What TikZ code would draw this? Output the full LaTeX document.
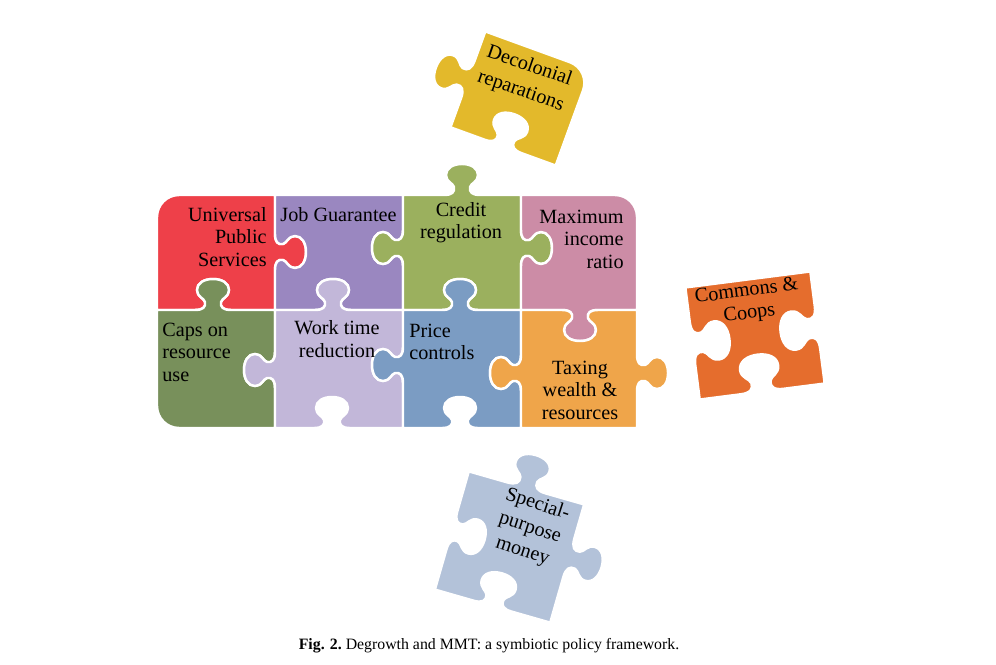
\documentclass[tikz,border=0pt]{standalone}
\usepackage{fontspec}
\setmainfont{Liberation Serif}
\usepackage{tikz}
\usetikzlibrary{calc,positioning}

\definecolor{upsred}{HTML}{EE4049}
\definecolor{jobpurple}{HTML}{9A87C0}
\definecolor{creditgreen}{HTML}{9BB05E}
\definecolor{maxpink}{HTML}{CC8CA6}
\definecolor{capsolive}{HTML}{78905B}
\definecolor{worklav}{HTML}{C2B7D9}
\definecolor{priceblue}{HTML}{7B9CC3}
\definecolor{taxorange}{HTML}{EFA54A}
\definecolor{decoyellow}{HTML}{E3B92B}
\definecolor{coopsorange}{HTML}{E56D2D}
\definecolor{spmblue}{HTML}{B3C2D9}

% one tab of a piece, in the edge's own frame
\newcommand{\knobpath}{-- (-18,0) .. controls (-10,0) and (-7,3) .. (-8,8)
  .. controls (-9,12) and (-16,13) .. (-16,20) .. controls (-16,27) and (-9,31) .. (0,31)
  .. controls (9,31) and (16,27) .. (16,20) .. controls (16,13) and (9,12) .. (8,8)
  .. controls (7,3) and (10,0) .. (18,0)}
\newcommand{\hknob}[4]{{[cm={#3,0,0,#4,(#1,#2)}] \knobpath}}
\newcommand{\vknob}[4]{{[cm={0,#3,#4,0,(#1,#2)}] \knobpath}}

\begin{document}
\begin{tikzpicture}[x=0.02cm, y=0.02cm,
  piece/.style={draw=white, line width=1.4pt, line join=round},
  lbl/.style={font=\fontsize{11.5}{12.8}\selectfont, inner sep=0pt}]
\useasboundingbox (0,0) rectangle (996,664);

% top row
\path[piece, fill=upsred] (157,447) arc[start angle=180, end angle=90, radius=22] -- (275,469)
  \vknob{275}{412}{-1}{1} -- (275,354) \hknob{213}{354}{-1}{1} -- (157,354) -- cycle;
\path[piece, fill=jobpurple] (275,469) -- (403,469) \vknob{403}{416}{-1}{-1} -- (403,354)
  \hknob{333}{354}{-1}{1} -- (275,354) \vknob{275}{412}{1}{1} -- cycle;
\path[piece, fill=creditgreen] (403,469) \hknob{462}{469}{1}{1} -- (521,469) \vknob{521}{416}{-1}{1}
  -- (521,354) \hknob{460}{354}{-1}{1} -- (403,354) \vknob{403}{416}{1}{-1} -- cycle;
\path[piece, fill=maxpink] (521,469) -- (615,469) arc[start angle=90, end angle=0, radius=22]
  -- (637,354) \hknob{580}{354}{-1}{-1} -- (521,354) \vknob{521}{416}{1}{1} -- cycle;

% bottom row
\path[piece, fill=capsolive] (157,354) \hknob{213}{354}{1}{1} -- (275,354) \vknob{275}{294}{-1}{-1}
  -- (275,236) -- (179,236) arc[start angle=270, end angle=180, radius=22] -- cycle;
\path[piece, fill=worklav] (275,354) \hknob{333}{354}{1}{1} -- (403,354) \vknob{403}{299}{-1}{-1}
  -- (403,236) \hknob{332}{236}{-1}{1} -- (275,236) \vknob{275}{294}{1}{-1} -- cycle;
\path[piece, fill=priceblue] (403,354) \hknob{460}{354}{1}{1} -- (521,354) \vknob{521}{291}{-1}{-1}
  -- (521,236) \hknob{460}{236}{-1}{1} -- (403,236) \vknob{403}{299}{1}{-1} -- cycle;
\path[piece, fill=taxorange] (521,354) \hknob{580}{354}{1}{-1} -- (637,354) \vknob{637}{291}{-1}{1}
  -- (637,236) -- (521,236) \vknob{521}{291}{1}{-1} -- cycle;

% loose pieces
\begin{scope}[shift={(520.5,565.5)}, rotate=-20]
\path[piece, fill=decoyellow] (-56,51) -- (34,51) arc[start angle=90, end angle=0, radius=22]
  -- (56,-51) \hknob{0}{-51}{-1.1}{1.1} -- (-56,-51) \vknob{-56}{0}{1.1}{-1.1} -- cycle;
\end{scope}
\begin{scope}[shift={(755,328.5)}, rotate=7.3]
\path[piece, fill=coopsorange] (-63,56.5) -- (63,56.5) \vknob{63}{0}{-1.2}{-1.2} -- (63,-56.5)
  \hknob{0}{-56.5}{-1.2}{1.2} -- (-63,-56.5) \vknob{-63}{0}{1.2}{1.2} -- cycle;
\end{scope}
\begin{scope}[shift={(509.5,117)}, rotate=-16]
\path[piece, fill=spmblue] (-60,61.5) \hknob{0}{61.5}{1.1}{1.1} -- (60,61.5) \vknob{60}{6}{-1.1}{1.1}
  -- (60,-61.5) \hknob{0}{-61.5}{-1.1}{1.1} -- (-60,-61.5) \vknob{-60}{0}{1.1}{1.1} -- cycle;
\end{scope}

% labels
\path (267,427) node[lbl, anchor=east, align=right] (ups) {Universal\\Public\\Services};
\path (338.5,449) node[lbl] (jg) {Job Guarantee};
\path (461,441.5) node[lbl, align=center] (cr) {Credit\\regulation};
\path (624,425) node[lbl, anchor=east, align=right] (mir) {Maximum\\income\\ratio};
\path (162,312) node[lbl, anchor=west, align=left] (caps) {Caps on\\resource\\use};
\path (337,325) node[lbl, align=center] (wtr) {Work time\\reduction};
\path (409,322) node[lbl, anchor=west, align=left] (pc) {Price\\controls};
\path (580,274) node[lbl, align=center] (tax) {Taxing\\wealth \&\\resources};
\path (525,585) node[lbl, font=\fontsize{11.5}{15}\selectfont, align=center, rotate=-19] (deco) {Decolonial\\reparations};
\path (748,361) node[lbl, align=center, rotate=7.3] (coops) {Commons \&\\Coops};
\path (530,136) node[lbl, font=\fontsize{11.5}{13.8}\selectfont, align=center, rotate=-18] (spm) {Special-\\purpose\\money};

% caption
\path (489,18) node[font=\fontsize{9}{10}\selectfont] (cap) {\textbf{Fig. 2.}\ Degrowth and MMT: a symbiotic policy framework.};
\end{tikzpicture}
\end{document}
